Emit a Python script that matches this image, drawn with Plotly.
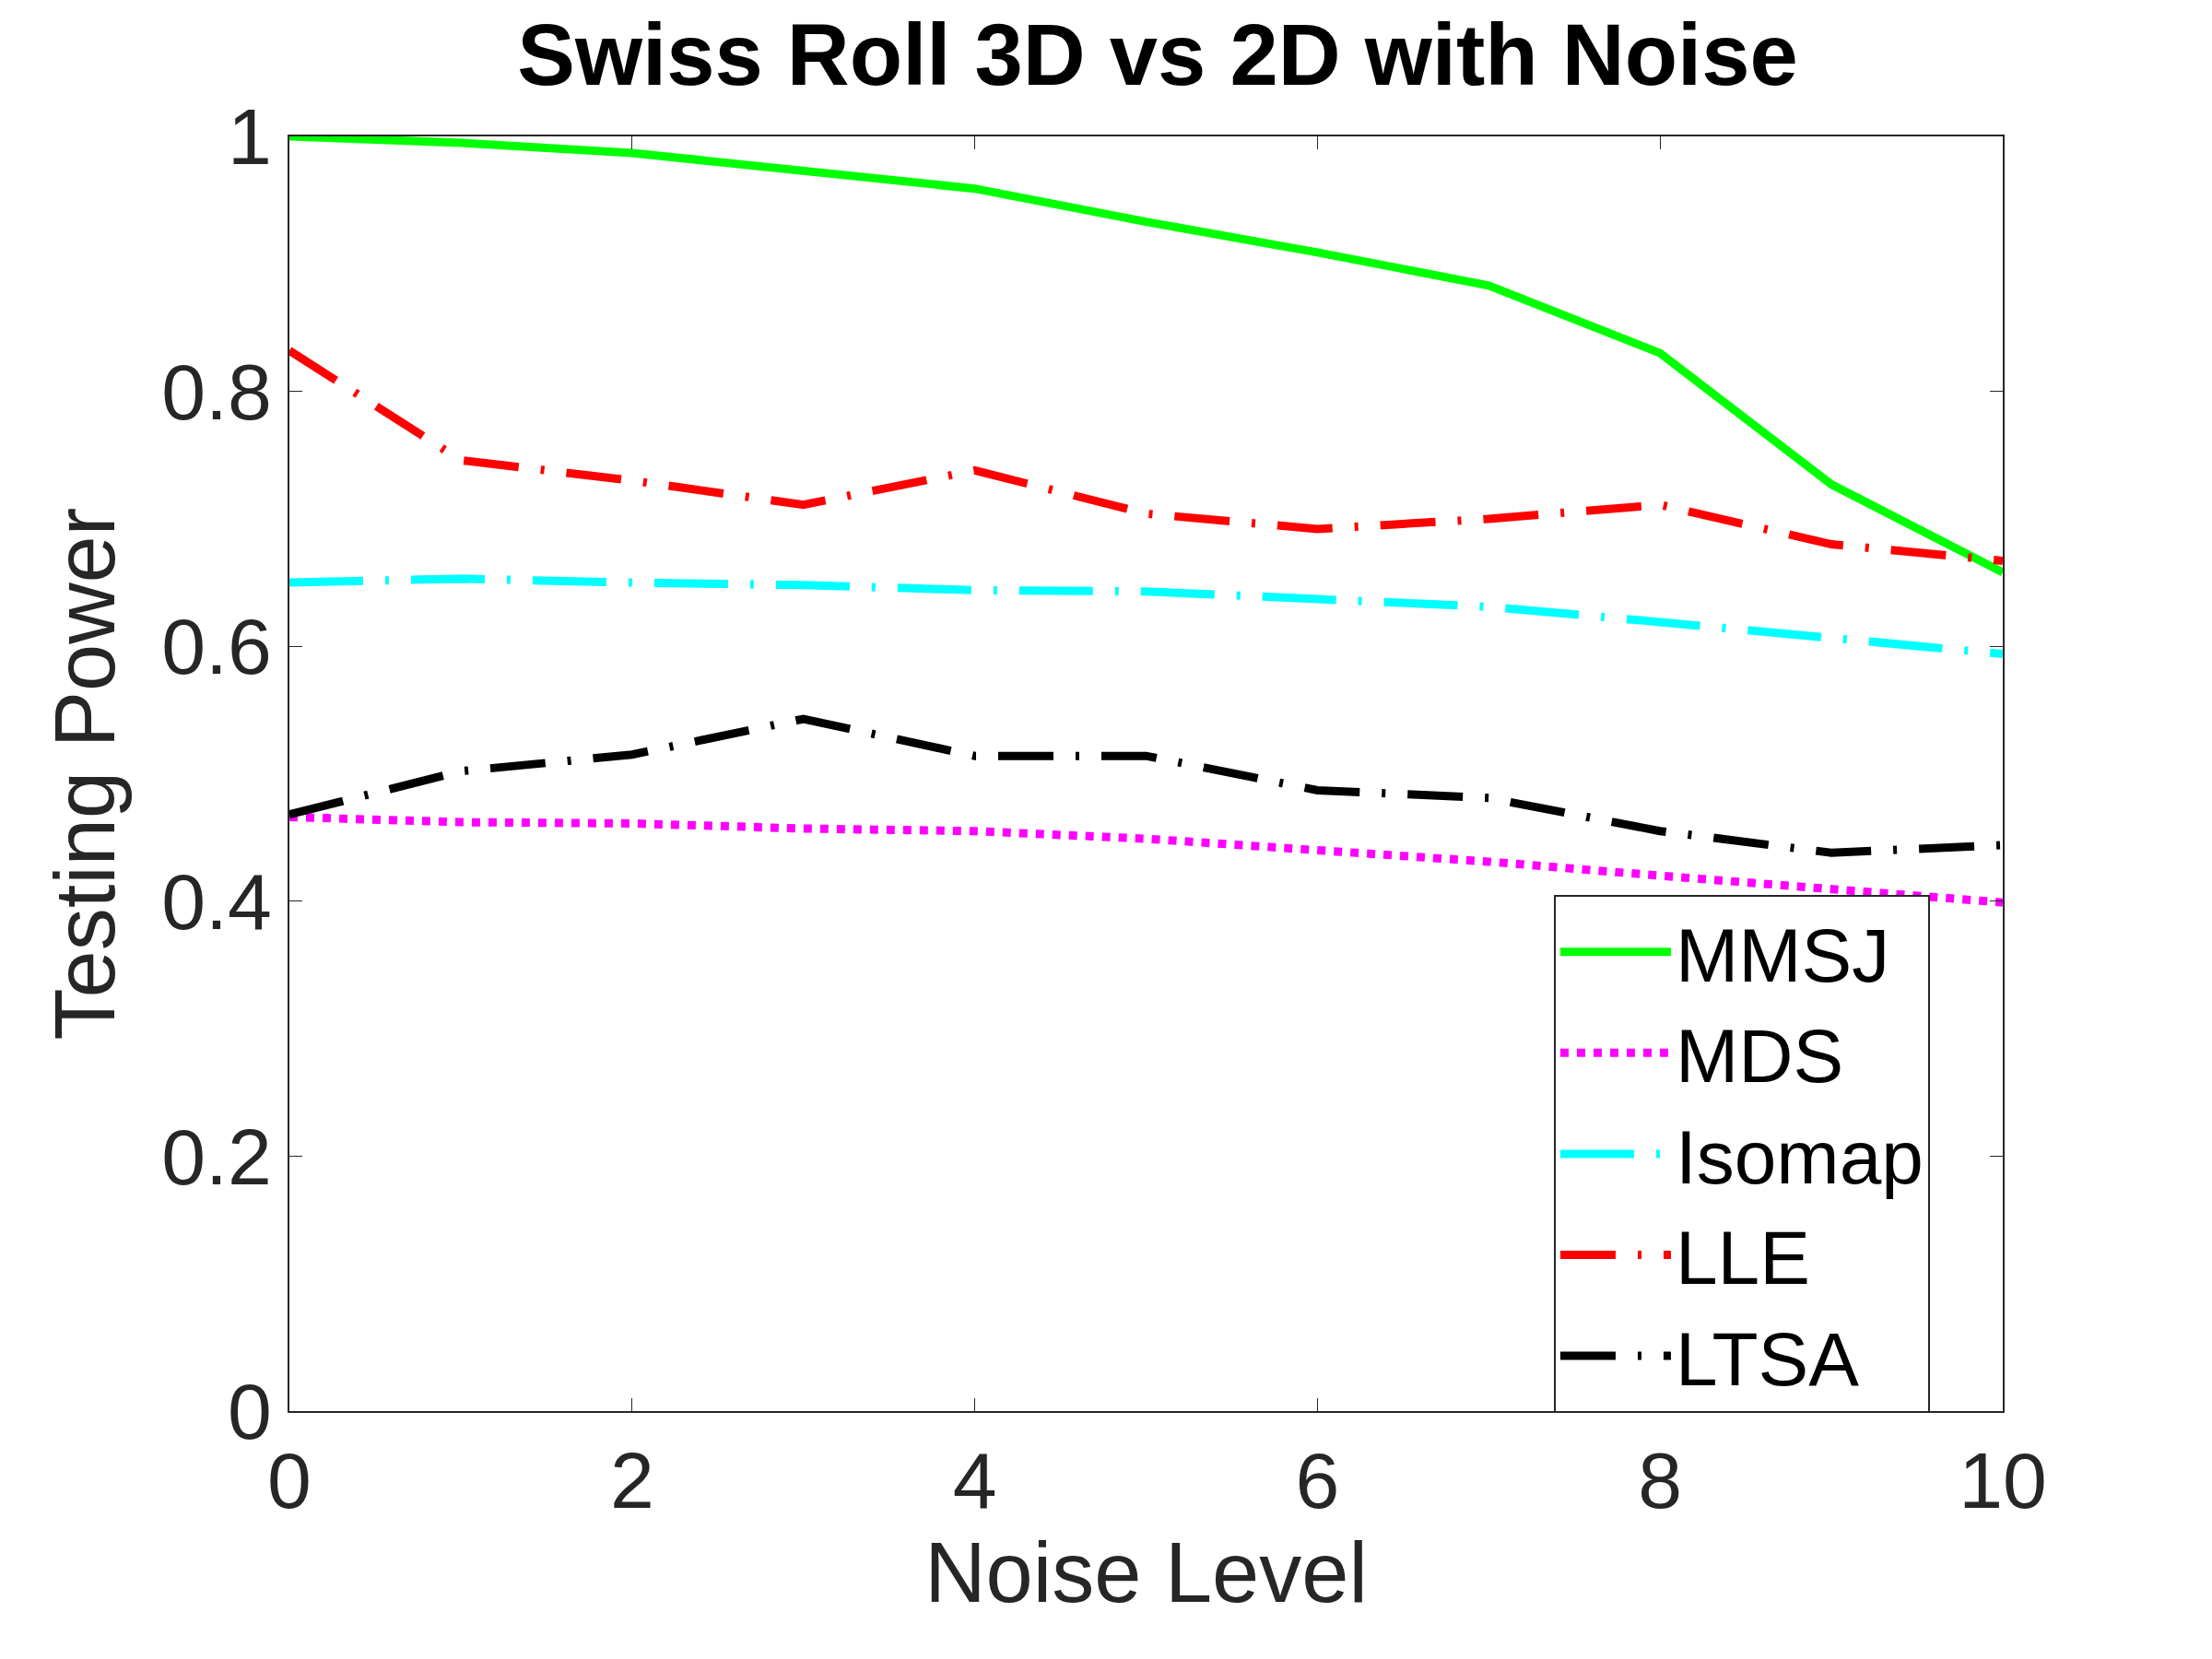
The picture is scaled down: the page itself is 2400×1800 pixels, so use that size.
import plotly.graph_objects as go

noise = list(range(11))
mmsj = [1.0, 0.995, 0.987, 0.973, 0.959, 0.933, 0.909, 0.883, 0.830, 0.727, 0.658]
mds = [0.466, 0.462, 0.461, 0.457, 0.455, 0.449, 0.440, 0.431, 0.420, 0.409, 0.399]
isomap = [0.650, 0.653, 0.650, 0.648, 0.644, 0.643, 0.637, 0.631, 0.619, 0.607, 0.594]
lle = [0.832, 0.746, 0.730, 0.711, 0.738, 0.704, 0.692, 0.700, 0.711, 0.680, 0.667]
ltsa = [0.468, 0.502, 0.515, 0.543, 0.514, 0.514, 0.487, 0.481, 0.455, 0.438, 0.444]

series = [
    ("MMSJ", mmsj, "#00ff00", "solid"),
    ("MDS", mds, "#ff00ff", "dot"),
    ("Isomap", isomap, "#00ffff", "80px,24px,4px,24px"),
    ("LLE", lle, "#ff0000", "60px,24px,4px,24px"),
    ("LTSA", ltsa, "#000000", "60px,24px,4px,24px"),
]

fig = go.Figure()
for name, vals, col, dash in series:
    fig.add_trace(go.Scatter(x=noise, y=vals, mode="lines", name=name,
                             line=dict(color=col, width=9, dash=dash)))

axis_common = dict(showline=True, linecolor="#262626", linewidth=2, mirror="ticks",
                   ticks="inside", ticklen=14, tickcolor="#262626", showgrid=False,
                   zeroline=False, tickfont=dict(size=86, color="#262626", family="Liberation Sans"),
                   title_font=dict(size=92, color="#262626", family="Liberation Sans"))
fig.update_xaxes(range=[0, 10], dtick=2, title_text="Noise Level", title_standoff=20, **axis_common)
fig.update_yaxes(range=[0, 1], tickvals=[0, 0.2, 0.4, 0.6, 0.8, 1],
                 ticktext=["0", "0.2", "0.4", "0.6", "0.8", "1"],
                 title_text="Testing Power", title_standoff=20, **axis_common)

fig.update_layout(
    width=2400, height=1800,
    margin=dict(l=306, r=235, t=140, b=277),
    plot_bgcolor="white", paper_bgcolor="white",
    title=dict(text="<b>Swiss Roll 3D vs 2D with Noise</b>", x=0.52, xanchor="center",
               y=0.99, yanchor="top", font=dict(size=94, color="black", family="Liberation Sans")),
    legend=dict(x=0.738, y=0.405, xanchor="left", yanchor="top", bgcolor="white",
                bordercolor="#262626", borderwidth=2,
                font=dict(size=82, color="black", family="Liberation Sans"),
                itemwidth=120, tracegroupgap=0),
)

fig.write_html("out.html")
